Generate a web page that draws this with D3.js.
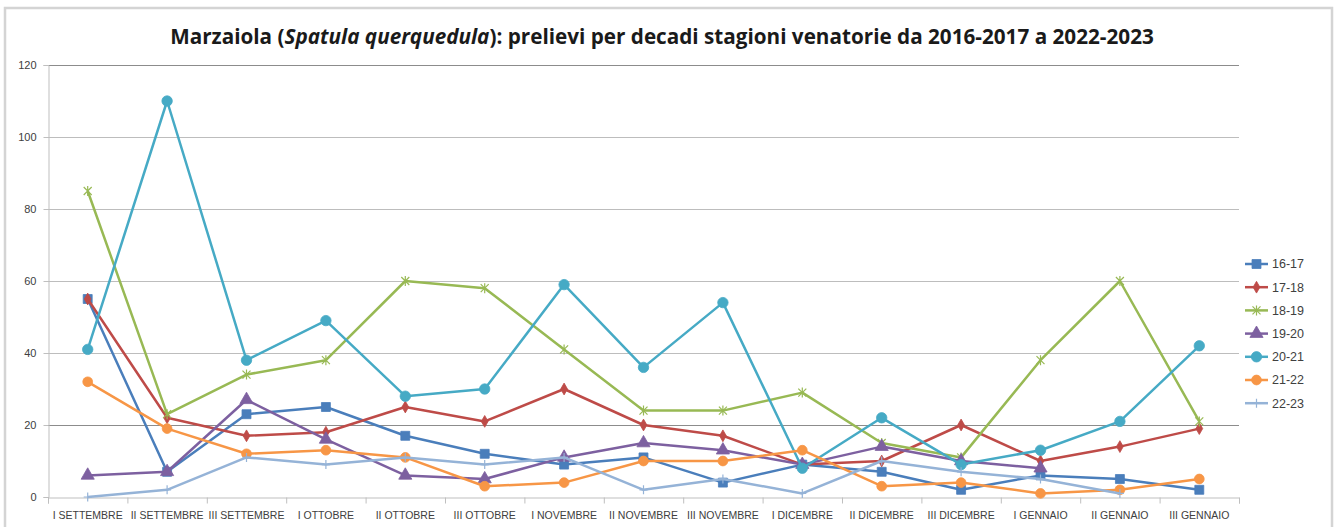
<!DOCTYPE html>
<html>
<head>
<meta charset="utf-8">
<script src="https://cdn.jsdelivr.net/npm/d3@7"></script>
<style>
  body { margin: 0; background: #fff; }
  svg { display: block; font-family: "Liberation Sans", Arial, sans-serif; }
  .axis path, .axis line { stroke: #bfbfbf; }
  .axis text { fill: #404040; font-size: 10.5px; }
  .yaxis text { font-size: 11px; }
</style>
</head>
<body>
<div id="chart"></div>
<script>
var categories = ["I SETTEMBRE", "II SETTEMBRE", "III SETTEMBRE", "I OTTOBRE", "II OTTOBRE",
  "III OTTOBRE", "I NOVEMBRE", "II NOVEMBRE", "III NOVEMBRE", "I DICEMBRE",
  "II DICEMBRE", "III DICEMBRE", "I GENNAIO", "II GENNAIO", "III GENNAIO"];

var seasons = ["16-17", "17-18", "18-19", "19-20", "20-21", "21-22", "22-23"];

var v1617 = [55, 7, 23, 25, 17, 12, 9, 11, 4, 9, 7, 2, 6, 5, 2];
var v1718 = [55, 22, 17, 18, 25, 21, 30, 20, 17, 9, 10, 20, 10, 14, 19];
var v1819 = [85, 23, 34, 38, 60, 58, 41, 24, 24, 29, 15, 11, 38, 60, 21];
var v1920 = [6, 7, 27, 16, 6, 5, 11, 15, 13, 9, 14, 10, 8, null, null];
var v2021 = [41, 110, 38, 49, 28, 30, 59, 36, 54, 8, 22, 9, 13, 21, 42];
var v2122 = [32, 19, 12, 13, 11, 3, 4, 10, 10, 13, 3, 4, 1, 2, 5];
var v2223 = [0, 2, 11, 9, 11, 9, 11, 2, 5, 1, 10, 7, 5, 1, null];

var yTicks = [0, 20, 40, 60, 80, 100, 120];

var colors = ["#4a7ebb", "#be4b48", "#98b954", "#7d60a0", "#46aac5", "#f79646", "#95b3d7"];
var markers = ["square", "diamond", "star", "triangle", "circle", "circle2", "plus"];

var allValues = [v1617, v1718, v1819, v1920, v2021, v2122, v2223];

var W = 1337, H = 527;
var mLeft = 48, mRight = 1239, mTop = 65, mBottom = 497;

var svg = d3.select("#chart").append("svg")
  .attr("width", W)
  .attr("height", H);

// outer frame
svg.append("rect")
  .attr("x", 5).attr("y", 8)
  .attr("width", 1327).attr("height", 540)
  .attr("fill", "#fff")
  .attr("stroke", "#d4d4d4")
  .attr("stroke-width", 2.5);

var x = d3.scaleBand().domain(categories).range([mLeft, mRight]);
var y = d3.scaleLinear().domain([0, 120]).range([mBottom, mTop]);
var cx = function(i) { return x(categories[i]) + x.bandwidth() / 2; };

// gridlines
svg.append("g")
  .selectAll("line")
  .data(yTicks.filter(function(d) { return d > 0; }))
  .enter().append("line")
  .attr("x1", mLeft).attr("x2", mRight)
  .attr("y1", function(d) { return Math.round(y(d)) + 0.5; })
  .attr("y2", function(d) { return Math.round(y(d)) + 0.5; })
  .attr("stroke", function(d) { return d == 20 || d == 120 ? "#8c8c8c" : "#bdbdbd"; })
  .attr("stroke-width", 1);

// y axis
svg.append("g")
  .attr("class", "axis yaxis")
  .attr("transform", "translate(" + (mLeft + 0.5) + ",0)")
  .call(d3.axisLeft(y).tickValues(yTicks).tickSize(5).tickPadding(7));

// x axis: boundary ticks + centered labels
var bnd = d3.scaleLinear().domain([0, categories.length]).range([mLeft, mRight]);
svg.append("g")
  .attr("class", "axis")
  .attr("transform", "translate(0," + (mBottom + 0.5) + ")")
  .call(d3.axisBottom(bnd).tickValues(d3.range(categories.length + 1)).tickFormat("").tickSize(6));

svg.append("g")
  .attr("class", "axis")
  .attr("transform", "translate(0," + (mBottom + 0.5) + ")")
  .call(d3.axisBottom(x).tickSize(0).tickPadding(14))
  .call(function(g) { g.select(".domain").remove(); });

function markerPath(type) {
  if (type == "square") return d3.symbol().type(d3.symbolSquare).size(80)();
  if (type == "diamond") return d3.symbol().type(d3.symbolDiamond).size(40)();
  if (type == "triangle") return d3.symbol().type(d3.symbolTriangle).size(75)();
  if (type == "circle") return d3.symbol().type(d3.symbolCircle).size(85)();
  if (type == "circle2") return d3.symbol().type(d3.symbolCircle).size(75)();
  if (type == "star") return "M-4,-4L4,4M-4,4L4,-4M0,-5L0,5";
  if (type == "plus") return "M-4,0L4,0M0,-4.5L0,4.5";
}

var line = d3.line()
  .defined(function(d) { return d != null; })
  .x(function(d, i) { return cx(i); })
  .y(function(d) { return y(d); });

seasons.forEach(function(s, k) {
  var vals = allValues[k];
  var g = svg.append("g").attr("class", "series");
  g.append("path")
    .datum(vals)
    .attr("d", line)
    .attr("fill", "none")
    .attr("stroke", colors[k])
    .attr("stroke-width", 2.5)
    .attr("stroke-linejoin", "round");

  var isStroke = markers[k] == "star" || markers[k] == "plus";
  g.selectAll(".m")
    .data(vals.map(function(v, i) { return {v: v, i: i}; }).filter(function(d) { return d.v != null; }))
    .enter().append("path")
    .attr("class", "m")
    .attr("transform", function(d) { return "translate(" + cx(d.i) + "," + y(d.v) + ")"; })
    .attr("d", markerPath(markers[k]))
    .attr("fill", isStroke ? "none" : colors[k])
    .attr("stroke", colors[k])
    .attr("stroke-width", isStroke ? 1.2 : 0.8);
});

// legend
var legend = svg.append("g").attr("transform", "translate(1245,264)");
seasons.forEach(function(s, k) {
  var row = legend.append("g").attr("transform", "translate(0," + (k * 23.2) + ")");
  row.append("line")
    .attr("x1", 0).attr("x2", 23)
    .attr("stroke", colors[k])
    .attr("stroke-width", 2.5);
  var isStroke = markers[k] == "star" || markers[k] == "plus";
  row.append("path")
    .attr("transform", "translate(11.5,0)")
    .attr("d", markerPath(markers[k]))
    .attr("fill", isStroke ? "none" : colors[k])
    .attr("stroke", colors[k])
    .attr("stroke-width", isStroke ? 1.2 : 0.8);
  row.append("text")
    .attr("x", 27)
    .attr("dy", "0.35em")
    .attr("fill", "#404040")
    .style("font-size", "12.5px")
    .text(s);
});

// title
var title = svg.append("text")
  .attr("x", 662)
  .attr("y", 44)
  .attr("text-anchor", "middle")
  .attr("fill", "#1a1a1a")
  .style("font-family", "'Open Sans', 'Noto Sans', sans-serif")
  .style("font-weight", "bold")
  .style("font-size", "20.7px");
title.append("tspan").text("Marzaiola (");
title.append("tspan").style("font-style", "italic").text("Spatula querquedula");
title.append("tspan").text("): prelievi per decadi stagioni venatorie da 2016-2017 a 2022-2023");
</script>
</body>
</html>
